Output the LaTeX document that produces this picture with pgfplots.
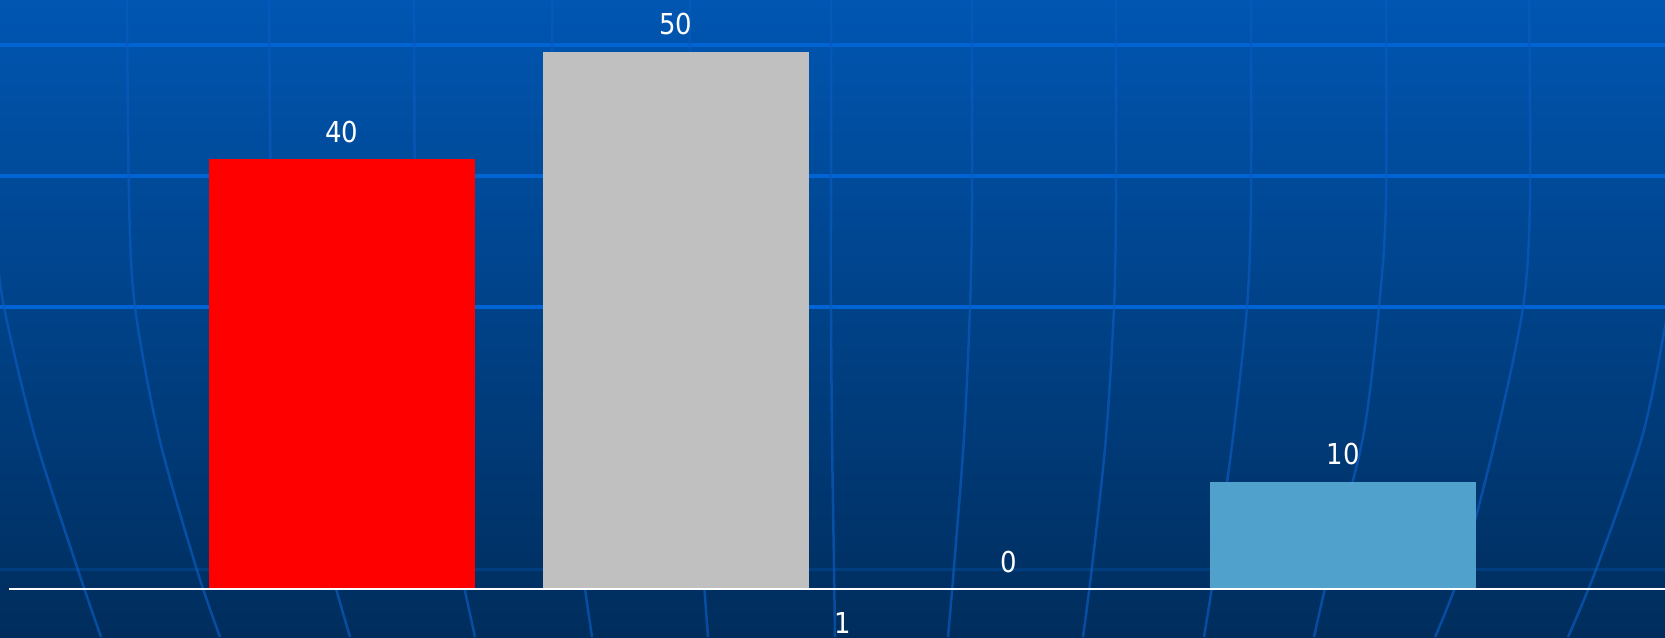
\documentclass[border=0pt]{standalone}
\usepackage{pgfplots}
\pgfplotsset{compat=1.18}
\usepackage{fontspec}
\setmainfont{DejaVu Sans Condensed}
\definecolor{bgtop}{RGB}{0,86,178}
\definecolor{bgbot}{RGB}{0,45,92}
\definecolor{hline}{RGB}{0,100,212}
\definecolor{hfaint}{RGB}{0,62,128}
\definecolor{merid}{RGB}{10,90,190}
\definecolor{barred}{RGB}{255,0,0}
\definecolor{barsilver}{RGB}{192,192,192}
\definecolor{barblue}{RGB}{80,162,204}
\definecolor{barnavy}{RGB}{0,32,96}
\begin{document}
\begin{tikzpicture}
\shade[top color=bgtop, bottom color=bgbot] (0,0) rectangle (166.5mm,-63.7mm);
\begin{scope}[x=0.1mm,y=-0.1mm]
  \draw[hline, line width=0.33mm] (0,45) -- (1665,45);
  \draw[hline, line width=0.33mm] (0,176) -- (1665,176);
  \draw[hline, line width=0.33mm] (0,307) -- (1665,307);
  \draw[hfaint, line width=0.3mm] (0,569) -- (1665,569);
  \begin{scope}[merid, opacity=0.7, line width=0.25mm]
    \draw plot[smooth] coordinates {(-6,230) (4,307) (35,437) (77,567) (101,637)};
    \draw plot[smooth] coordinates {(127,0) (129,200) (135,307) (159,437) (196,567) (220,637)};
    \draw plot[smooth] coordinates {(269,0) (271,200) (276,307) (296,437) (330,567) (350,637)};
    \draw plot[smooth] coordinates {(414,0) (415,200) (419.5,307) (434,437) (460,567) (475,637)};
    \draw plot[smooth] coordinates {(552,0) (553,200) (556,307) (565,437) (582,567) (592,637)};
    \draw plot[smooth] coordinates {(690,0) (690,200) (692,307) (696,437) (703,567) (708,637)};
    \draw plot[smooth] coordinates {(831,0) (831,200) (831,307) (832,437) (834,567) (835,637)};
    \draw plot[smooth] coordinates {(972,0) (972,200) (970,307) (964,437) (954,567) (948,637)};
    \draw plot[smooth] coordinates {(1116,0) (1116,200) (1114,307) (1106,437) (1092,567) (1083,637)};
    \draw plot[smooth] coordinates {(1251,0) (1251,200) (1247,307) (1233,437) (1215,567) (1204,637)};
    \draw plot[smooth] coordinates {(1386,0) (1386,200) (1379,307) (1363,437) (1330,567) (1314,637)};
    \draw plot[smooth] coordinates {(1529,0) (1530,200) (1523,307) (1496,437) (1462,567) (1435,637)};
    \draw plot[smooth] coordinates {(1672,280) (1665,327) (1642,437) (1597,567) (1568,637)};
  \end{scope}
\end{scope}
\begin{axis}[
  at={(0,0)}, anchor=north west,
  scale only axis, width=166.5mm, height=58.9mm,
  xmin=0.1575, xmax=1.8225, ymin=0, ymax=54.79,
  hide y axis, axis x line*=bottom, x axis line style={draw=none},
  xtick={1}, xticklabels={1}, major tick length=0pt,
  xticklabel style={anchor=north, inner sep=0pt, yshift=-6.6pt, text=white, font=\fontsize{8.2}{10}\selectfont},
  ybar, bar width=0.266,
  nodes near coords,
  nodes near coords style={anchor=south, inner sep=0pt, yshift=4.4pt, text=white, font=\fontsize{8.2}{10}\selectfont},
  /pgf/number format/assume math mode=true,
  clip=false,
]
\addplot[fill=barred, draw=none, bar shift=-0.5005] coordinates {(1,40)};
\addplot[fill=barsilver, draw=none, bar shift=-0.167] coordinates {(1,50)};
\addplot[fill=barnavy, draw=none, bar shift=0.1665] coordinates {(1,0)};
\addplot[fill=barblue, draw=none, bar shift=0.5005] coordinates {(1,10)};
\draw[white, line width=0.2mm] (axis cs:0.166,0) -- (axis cs:1.8225,0);
\end{axis}
\pgfresetboundingbox
\path[use as bounding box] (0,0) rectangle (166.5mm,-63.7mm);
\end{tikzpicture}
\end{document}
